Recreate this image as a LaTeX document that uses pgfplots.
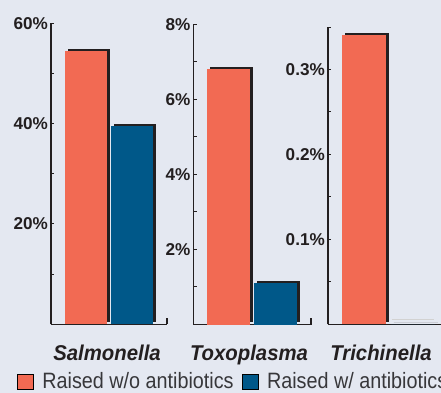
\documentclass[border=0pt]{standalone}
\usepackage{fontspec}
\setmainfont{Liberation Sans}
\newfontfamily\legfont{Liberation Sans}[FakeStretch=0.89]
\newfontfamily\catfont{Liberation Sans}[FakeStretch=0.95]
\usepackage{pgfplots}
\pgfplotsset{compat=1.18}
\definecolor{bg}{RGB}{228,232,241}
\definecolor{redb}{RGB}{242,106,83}
\definecolor{blueb}{RGB}{0,88,137}
\definecolor{ink}{RGB}{35,31,32}
\definecolor{txt}{RGB}{55,55,58}
\pgfplotsset{
  panel/.style={
    scale only axis,
    ybar,
    axis x line=bottom, axis y line=left,
    axis line style={-, line width=1.3bp, ink},
    ymin=0,
    tick align=inside,
    major tick length=3bp, minor tick length=3bp,
    ytick style={line width=1bp, ink},
    minor tick style={line width=1bp, ink},
    xtick style={draw=none},
    yticklabel style={font=\bfseries\fontsize{17.2}{17.2}\selectfont, text=ink, inner sep=0pt, xshift=-3bp},
    /pgf/number format/assume math mode=true,
    yticklabel={\pgfmathprintnumber{\tick}\%},
    xticklabel style={font=\catfont\bfseries\itshape\fontsize{21.5}{21.5}\selectfont, text=ink, inner sep=0pt, yshift=-20bp},
    clip=false,
  },
  endtick/.style={after end axis/.code={\draw[line width=1.3bp, ink] (rel axis cs:1,0) -- ([yshift=6bp]rel axis cs:1,0);}},
  sbar/.style={draw=none, bar shift=0pt, forget plot, preaction={fill=ink, transform canvas={xshift=2.8bp, yshift=2bp}}},
}
\begin{document}
\begin{tikzpicture}
\fill[bg] (0,0) rectangle (441bp,393bp);
\useasboundingbox (0,0) rectangle (441bp,393bp);
% Panel 1: Salmonella
\begin{axis}[panel, endtick, at={(51bp,68.7bp)}, anchor=south west,
  width=116bp, height=301bp, ymax=60,
  xmin=-0.761, xmax=1.761, bar width=42bp,
  ytick={20,40,60}, minor ytick={10,30,50},
  xtick={0.457}, xticklabels={Salmonella},
  legend columns=2,
  legend image code/.code={\fill[#1] (0bp,-7.5bp) rectangle (16bp,7.5bp); \path (25bp,0bp);},
  legend style={at={(axis description cs:-0.2931,-0.160)}, anchor=north west, draw=none, fill=none,
    inner sep=0pt, outer sep=0pt, font=\legfont\fontsize{22.3}{22.3}\selectfont, text=txt,
    nodes={inner sep=0pt},
    /tikz/every even column/.append style={column sep=8bp}},
  legend cell align=left]
\addplot[sbar, fill=redb] coordinates {(0,54.4)};
\addplot[sbar, fill=blueb] coordinates {(1,39.5)};
\addlegendimage{fill=redb}
\addlegendentry{Raised w/o antibiotics}
\addlegendimage{fill=blueb}
\addlegendentry{Raised w/ antibiotics}
\end{axis}
% Panel 2: Toxoplasma
\begin{axis}[panel, endtick, at={(193.5bp,68.5bp)}, anchor=south west,
  width=117.5bp, height=300bp, ymax=8,
  xmin=-0.745, xmax=1.755, bar width=43bp,
  ytick={2,4,6,8}, minor ytick={1,3,5,7},
  xtick={0.436}, xticklabels={Toxoplasma}]
\addplot[sbar, fill=redb] coordinates {(0,6.8)};
\addplot[sbar, fill=blueb] coordinates {(1,1.11)};
\end{axis}
% Panel 3: Trichinella
\begin{axis}[panel, at={(328bp,68.7bp)}, anchor=south west,
  width=117bp, height=297.3bp, ymax=0.35,
  xmin=-0.735, xmax=1.653, bar width=44bp,
  ytick={0.1,0.2,0.3}, minor ytick={0.05,0.15,0.25,0.35},
  yticklabel={\pgfmathprintnumber[fixed,precision=1]{\tick}\%},
  xtick={0.347}, xticklabels={Trichinella}]
\addplot[sbar, fill=redb] coordinates {(0,0.341)};
\addplot[sbar, fill=blueb] coordinates {(1,0)};
\addplot[sharp plot, gray!35, line width=0.8bp, forget plot] coordinates {(0.571,0.006) (1.43,0.006)};
\end{axis}
\end{tikzpicture}
\end{document}
